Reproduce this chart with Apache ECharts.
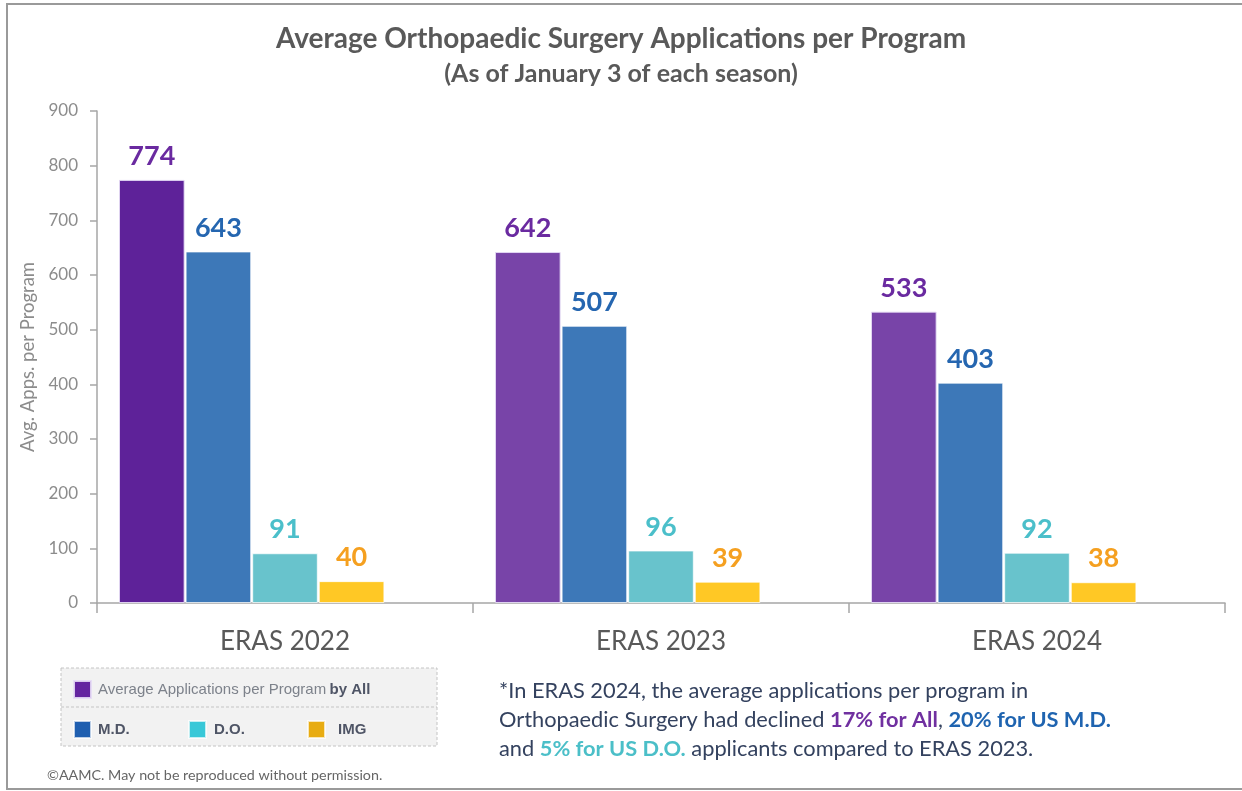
<!DOCTYPE html>
<html>
<head>
<meta charset="utf-8">
<script src="https://cdn.jsdelivr.net/npm/echarts@6/dist/echarts.min.js"></script>
<style>
html,body{margin:0;padding:0;background:#fff;}
#chart{width:1242px;height:791px;}
</style>
</head>
<body>
<div id="chart"></div>
<script>
const categories = ['ERAS 2022', 'ERAS 2023', 'ERAS 2024'];
const allValues = [774, 642, 533];
const mdValues = [643, 507, 403];
const doValues = [91, 96, 92];
const imgValues = [40, 39, 38];
const spacerValues = [null, null, null];
const yTicks = { min: 0, max: 900, interval: 100 };

const FONT = 'Lato';
const chart = echarts.init(document.getElementById('chart'));

function barSeries(name, data, color, labelColor) {
  return {
    name: name,
    type: 'bar',
    data: data,
    barGap: '1.5%',
    barCategoryGap: '11.7%',
    itemStyle: { color: color, borderColor: 'rgba(255,255,255,0.7)', borderWidth: 1 },
    label: {
      show: true, position: 'top', distance: 10,
      color: labelColor, fontFamily: FONT, fontWeight: 'bold', fontSize: 27
    },
    emphasis: { disabled: true }
  };
}

const legendText = { fontFamily: 'Liberation Sans', fontSize: 15, fontWeight: 'bold', color: '#4f5566' };

const option = {
  backgroundColor: '#ffffff',
  animation: false,
  title: {
    text: 'Average Orthopaedic Surgery Applications per Program',
    subtext: '(As of January 3 of each season)',
    left: 'center',
    top: 20,
    itemGap: 8,
    textStyle: { fontFamily: FONT, fontWeight: 'bold', fontSize: 28, color: '#595959' },
    subtextStyle: { fontFamily: FONT, fontWeight: 'bold', fontSize: 25, color: '#595959' }
  },
  grid: { left: 97, right: 17, top: 111, bottom: 188, containLabel: false },
  xAxis: {
    type: 'category',
    data: categories,
    axisLine: { lineStyle: { color: '#a6a6a6', width: 1.5 } },
    axisTick: { show: true, length: 10, lineStyle: { color: '#a6a6a6', width: 1.5 } },
    axisLabel: { fontFamily: FONT, fontSize: 26, color: '#595959', margin: 26 }
  },
  yAxis: {
    type: 'value',
    min: yTicks.min, max: yTicks.max, interval: yTicks.interval,
    name: 'Avg. Apps. per Program',
    nameLocation: 'middle',
    nameGap: 58,
    nameTextStyle: { fontFamily: FONT, fontSize: 18.5, color: '#8c8c8c' },
    axisLine: { show: true, lineStyle: { color: '#a6a6a6', width: 1.5 } },
    axisTick: { show: true, length: 7, lineStyle: { color: '#a6a6a6', width: 1.5 } },
    axisLabel: { fontFamily: FONT, fontSize: 17, color: '#8c8c8c', margin: 19 },
    splitLine: { show: false }
  },
  legend: [
    {
      left: 68, top: 675, itemWidth: 17, itemHeight: 17, itemGap: 8, icon: 'rect',
      selectedMode: false,
      data: [{ name: 'All', itemStyle: { color: '#6424a0' } }],
      formatter: function () { return '{n|Average Applications per Program} {b|by All}'; },
      textStyle: {
        rich: {
          n: { fontFamily: 'Liberation Sans', fontSize: 15, color: '#7d828b', padding: [0, 0, 0, 2] },
          b: { fontFamily: 'Liberation Sans', fontSize: 15, color: '#4f5566', fontWeight: 'bold' }
        }
      }
    },
    {
      left: 68, top: 715, itemWidth: 17, itemHeight: 17, itemGap: 8, icon: 'rect', selectedMode: false,
      data: [{ name: 'M.D.', itemStyle: { color: '#1f5fb0' } }],
      textStyle: Object.assign({}, legendText, { padding: [0, 0, 0, 2] })
    },
    {
      left: 183, top: 715, itemWidth: 17, itemHeight: 17, itemGap: 8, icon: 'rect', selectedMode: false,
      data: [{ name: 'D.O.', itemStyle: { color: '#38c8d8' } }],
      textStyle: Object.assign({}, legendText, { padding: [0, 0, 0, 3] })
    },
    {
      left: 302, top: 715, itemWidth: 17, itemHeight: 17, itemGap: 8, icon: 'rect', selectedMode: false,
      data: [{ name: 'IMG', itemStyle: { color: '#e8ac12' } }],
      textStyle: Object.assign({}, legendText, { padding: [0, 0, 0, 8] })
    }
  ],
  graphic: [
    {
      type: 'rect', z: -10, silent: true,
      shape: { x: 7, y: 4, width: 1250, height: 785 },
      style: { fill: 'none', stroke: '#9a9a9a', lineWidth: 2 }
    },
    {
      type: 'rect', z: -5, silent: true,
      shape: { x: 61, y: 668, width: 376, height: 78 },
      style: { fill: '#f2f2f2', stroke: '#c4c4c4', lineWidth: 1, lineDash: [3, 2] }
    },
    {
      type: 'line', z: -4, silent: true,
      shape: { x1: 61, y1: 707, x2: 437, y2: 707 },
      style: { stroke: '#c4c4c4', lineWidth: 1, lineDash: [3, 2] }
    },
    {
      type: 'text', silent: true, left: 499, top: 680,
      style: {
        text: '{t|*In ERAS 2024, the average applications per program in}\n' +
              '{t|Orthopaedic Surgery had declined }{p|17% for All}{t|, }{m|20% for US M.D.}\n' +
              '{t|and }{d|5% for US D.O.}{t| applicants compared to ERAS 2023.}',
        rich: {
          t: { fontFamily: FONT, fontSize: 21.8, fill: '#34425f', lineHeight: 29 },
          p: { fontFamily: FONT, fontSize: 21.8, fill: '#7030a0', fontWeight: 'bold', lineHeight: 29 },
          m: { fontFamily: FONT, fontSize: 21.8, fill: '#1f64b0', fontWeight: 'bold', lineHeight: 29 },
          d: { fontFamily: FONT, fontSize: 21.8, fill: '#4bbfc8', fontWeight: 'bold', lineHeight: 29 }
        }
      }
    },
    {
      type: 'text', silent: true, left: 47, top: 768,
      style: {
        text: '\u00A9AAMC. May not be reproduced without permission.',
        fontFamily: FONT, fontSize: 14.3, fill: '#666666'
      }
    }
  ],
  series: [
    (function () {
      const s = barSeries('All', allValues, function (p) { return p.dataIndex === 0 ? '#5e2299' : '#7844a8'; }, '#6a2aa0');
      s.itemStyle.borderColor = 'rgba(230,220,245,0.9)';
      return s;
    })(),
    barSeries('M.D.', mdValues, '#3d78b8', '#2566b0'),
    barSeries('D.O.', doValues, '#68c3cc', '#4bbfca'),
    barSeries('IMG', imgValues, '#ffc825', '#f5a020'),
    { name: 'spacer', type: 'bar', data: spacerValues, barGap: '1.5%', barCategoryGap: '11.7%', silent: true }
  ]
};

chart.setOption(option);
</script>
</body>
</html>
